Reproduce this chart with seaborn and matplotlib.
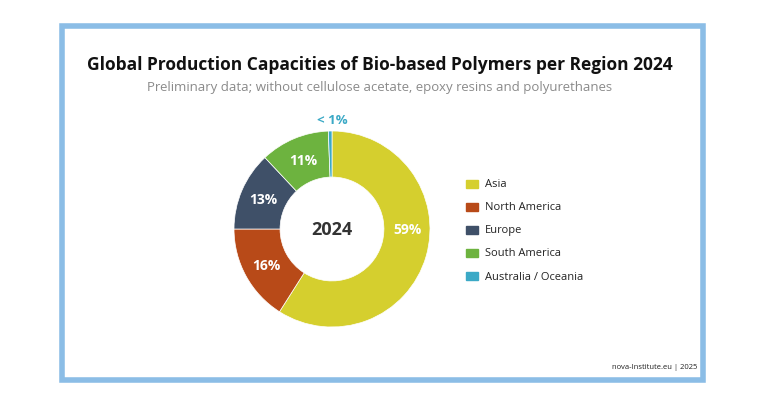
import seaborn as sns
import matplotlib.pyplot as plt
from matplotlib.patches import Rectangle
import numpy as np

sns.set_theme(style="white")
plt.rcParams["font.family"] = "Open Sans"

regions = ["Asia", "North America", "Europe", "South America", "Australia / Oceania"]
shares = [59, 16, 13, 11.4, 0.6]
labels = ["59%", "16%", "13%", "11%", "< 1%"]
colors = ["#d5cf2e", "#b84a18", "#3f5068", "#6db33f", "#3ba9c6"]

W, H = 760, 410
fig = plt.figure(figsize=(W / 100, H / 100), dpi=100)
fig.patch.set_facecolor("white")

# frame
fig.patches.append(Rectangle((62 / W, 1 - 381 / H), 641 / W, 354 / H, transform=fig.transFigure,
                             fill=False, edgecolor="#8bbde6", linewidth=4))

fig.text(380 / W, 1 - 65 / H, "Global Production Capacities of Bio-based Polymers per Region 2024",
         ha="center", va="center", fontsize=12.5, fontweight="bold", color="#111111")
fig.text(380 / W, 1 - 88 / H, "Preliminary data; without cellulose acetate, epoxy resins and polyurethanes",
         ha="center", va="center", fontsize=9.5, color="#8a8a8a")

cx, cy, r = 332, 230, 98
ax = fig.add_axes([(cx - r) / W, 1 - (cy + r) / H, 2 * r / W, 2 * r / H])
wedges, _ = ax.pie(shares, colors=colors, startangle=90, counterclock=False,
                   wedgeprops=dict(width=0.47, edgecolor="white", linewidth=0.5))
ax.set_xlim(-1, 1)
ax.set_ylim(-1, 1)
ax.axis("off")
ax.text(0, 0, "2024", ha="center", va="center", fontsize=13, fontweight="bold", color="#333333")

ang = 90.0
for s, lab, c in zip(shares, labels, colors):
    mid = np.deg2rad(ang - s * 3.6 / 2)
    ang -= s * 3.6
    if lab == "< 1%":
        ax.text(0.0, 1.12, lab, ha="center", va="center", fontsize=9.5, fontweight="bold", color=c)
    elif lab == "59%":
        ax.text(0.77, 0.0, lab, ha="center", va="center", fontsize=10, fontweight="bold", color="white")
    else:
        ax.text(0.765 * np.cos(mid), 0.765 * np.sin(mid), lab, ha="center", va="center",
                fontsize=10, fontweight="bold", color="white")

# legend
for i, (reg, c) in enumerate(zip(regions, colors)):
    y = 185 + i * 23
    fig.patches.append(Rectangle((466 / W, 1 - (y + 4) / H), 12 / W, 8 / H,
                                 transform=fig.transFigure, color=c))
    fig.text(485 / W, 1 - y / H, reg, va="center", fontsize=8, color="#222222")

fig.text(697 / W, 1 - 368 / H, "nova-Institute.eu | 2025", ha="right", va="center",
         fontsize=5.5, color="#222222")

fig.savefig("out.png", dpi=100)
